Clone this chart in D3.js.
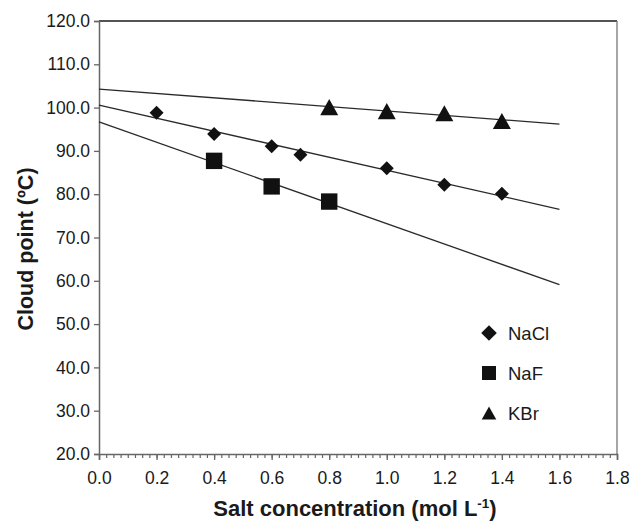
<!DOCTYPE html>
<html>
<head>
<meta charset="utf-8">
<script src="https://cdn.jsdelivr.net/npm/d3@7"></script>
<style>
  body { margin: 0; background: #fff; }
  svg text { font-family: "Liberation Sans", Arial, sans-serif; fill: #1a1a1a; }
</style>
</head>
<body>
<svg width="629" height="521"></svg>
<script>
// salt concentration (mol/L) and cloud point (C)
const naclX = [0.2, 0.4, 0.6, 0.7, 1.0, 1.2, 1.4];
const naclY = [98.8, 93.9, 91.1, 89.1, 86.0, 82.2, 80.1];
const nafX = [0.4, 0.6, 0.8];
const nafY = [87.7, 81.8, 78.3];
const kbrX = [0.8, 1.0, 1.2, 1.4];
const kbrY = [100.1, 99.2, 98.7, 96.9];
const seriesNames = ["NaCl", "NaF", "KBr"];
const trendRange = [0, 1.6];
const xTicks = [0, 0.2, 0.4, 0.6, 0.8, 1.0, 1.2, 1.4, 1.6, 1.8];
const yTicks = [20, 30, 40, 50, 60, 70, 80, 90, 100, 110, 120];

const svg = d3.select("svg");
const mLeft = 99, mRight = 617, mTop = 21, mBottom = 454;

const x = d3.scaleLinear().domain([0, 1.8]).range([mLeft, mRight]);
const y = d3.scaleLinear().domain([20, 120]).range([mBottom, mTop]);

const series = [
    { name: seriesNames[0], xs: naclX, ys: naclY, shape: "diamond" },
    { name: seriesNames[1], xs: nafX, ys: nafY, shape: "square" },
    { name: seriesNames[2], xs: kbrX, ys: kbrY, shape: "triangle" }
];

// least squares fit, like the spreadsheet trendline
function fit(xs, ys) {
    const mx = d3.mean(xs), my = d3.mean(ys);
    let sxy = 0, sxx = 0;
    xs.forEach((v, i) => { sxy += (v - mx) * (ys[i] - my); sxx += (v - mx) * (v - mx); });
    const b = sxy / sxx;
    return v => my + b * (v - mx);
}

function marker(shape, r) {
    if (shape === "diamond") return `M0,${-r}L${r},0L0,${r}L${-r},0Z`;
    if (shape === "square") return `M${-r},${-r}H${r}V${r}H${-r}Z`;
    const h = r * 0.9;
    return `M0,${-h}L${r},${h}L${-r},${h}Z`;
}
const plotSize = { diamond: 7, square: 8.2, triangle: 9 };
const legendSize = { diamond: 7.8, square: 7, triangle: 7.3 };

// frame: top and right borders
svg.append("line").attr("x1", mLeft).attr("x2", mRight).attr("y1", mTop).attr("y2", mTop)
    .attr("stroke", "#1a1a1a").attr("stroke-width", 1.3);
svg.append("line").attr("x1", mRight).attr("x2", mRight).attr("y1", mTop).attr("y2", mBottom)
    .attr("stroke", "#777").attr("stroke-width", 1.3);

// y axis
const yAxis = svg.append("g")
    .attr("transform", `translate(${mLeft},0)`)
    .call(d3.axisLeft(y).tickValues(yTicks).tickFormat(d3.format(".1f")).tickSize(5).tickPadding(4));
yAxis.select(".domain").attr("stroke", "#666").attr("stroke-width", 1.5);
yAxis.selectAll(".tick line").attr("stroke", "#666").attr("stroke-width", 1.3);
yAxis.selectAll("text").attr("font-size", 17.5).attr("fill", "#1a1a1a")
    .attr("font-family", "Liberation Sans, Arial, sans-serif");

// x axis, minor ticks first
const xMinor = svg.append("g")
    .attr("transform", `translate(0,${mBottom})`)
    .call(d3.axisBottom(x).tickValues(d3.range(0, 73).map(i => i * 0.025)).tickSize(4).tickFormat(""));
xMinor.select(".domain").remove();
xMinor.selectAll(".tick line").attr("stroke", "#666").attr("stroke-width", 1.2);

const xAxis = svg.append("g")
    .attr("transform", `translate(0,${mBottom})`)
    .call(d3.axisBottom(x).tickValues(xTicks).tickFormat(d3.format(".1f")).tickSize(6).tickPadding(12));
xAxis.select(".domain").attr("stroke", "#666").attr("stroke-width", 1.5);
xAxis.selectAll(".tick line").attr("stroke", "#666").attr("stroke-width", 1.3);
xAxis.selectAll("text").attr("font-size", 17.5).attr("fill", "#1a1a1a")
    .attr("font-family", "Liberation Sans, Arial, sans-serif");

// trend lines
series.forEach(s => {
    const f = fit(s.xs, s.ys);
    svg.append("line")
        .attr("x1", x(trendRange[0])).attr("y1", y(f(trendRange[0])))
        .attr("x2", x(trendRange[1])).attr("y2", y(f(trendRange[1])))
        .attr("stroke", "#2a2a2a").attr("stroke-width", 1.3);
});

// points
series.forEach(s => {
    svg.selectAll(null)
        .data(s.xs.map((v, i) => [v, s.ys[i]]))
        .enter().append("path")
        .attr("d", marker(s.shape, plotSize[s.shape]))
        .attr("transform", d => `translate(${x(d[0])},${y(d[1])})`)
        .attr("fill", "#111");
});

// legend
const legend = svg.append("g").attr("transform", "translate(489,333)");
series.forEach((s, i) => {
    legend.append("path")
        .attr("d", marker(s.shape, legendSize[s.shape]))
        .attr("transform", `translate(0,${i * 40})`)
        .attr("fill", "#111");
    legend.append("text")
        .attr("x", 19).attr("y", i * 40 + 7)
        .attr("font-size", 18.5)
        .text(s.name);
});

// axis titles
svg.append("text")
    .attr("transform", "translate(33,249) rotate(-90)")
    .attr("text-anchor", "middle")
    .attr("font-size", 21.5).attr("font-weight", "bold")
    .text("Cloud point (ºC)");

const xt = svg.append("text")
    .attr("x", 355).attr("y", 516)
    .attr("text-anchor", "middle")
    .attr("font-size", 22).attr("font-weight", "bold");
xt.append("tspan").text("Salt concentration (mol L");
xt.append("tspan").attr("font-size", 13.5).attr("dy", -8).text("-1");
xt.append("tspan").attr("dy", 8).text(")");
</script>
</body>
</html>
